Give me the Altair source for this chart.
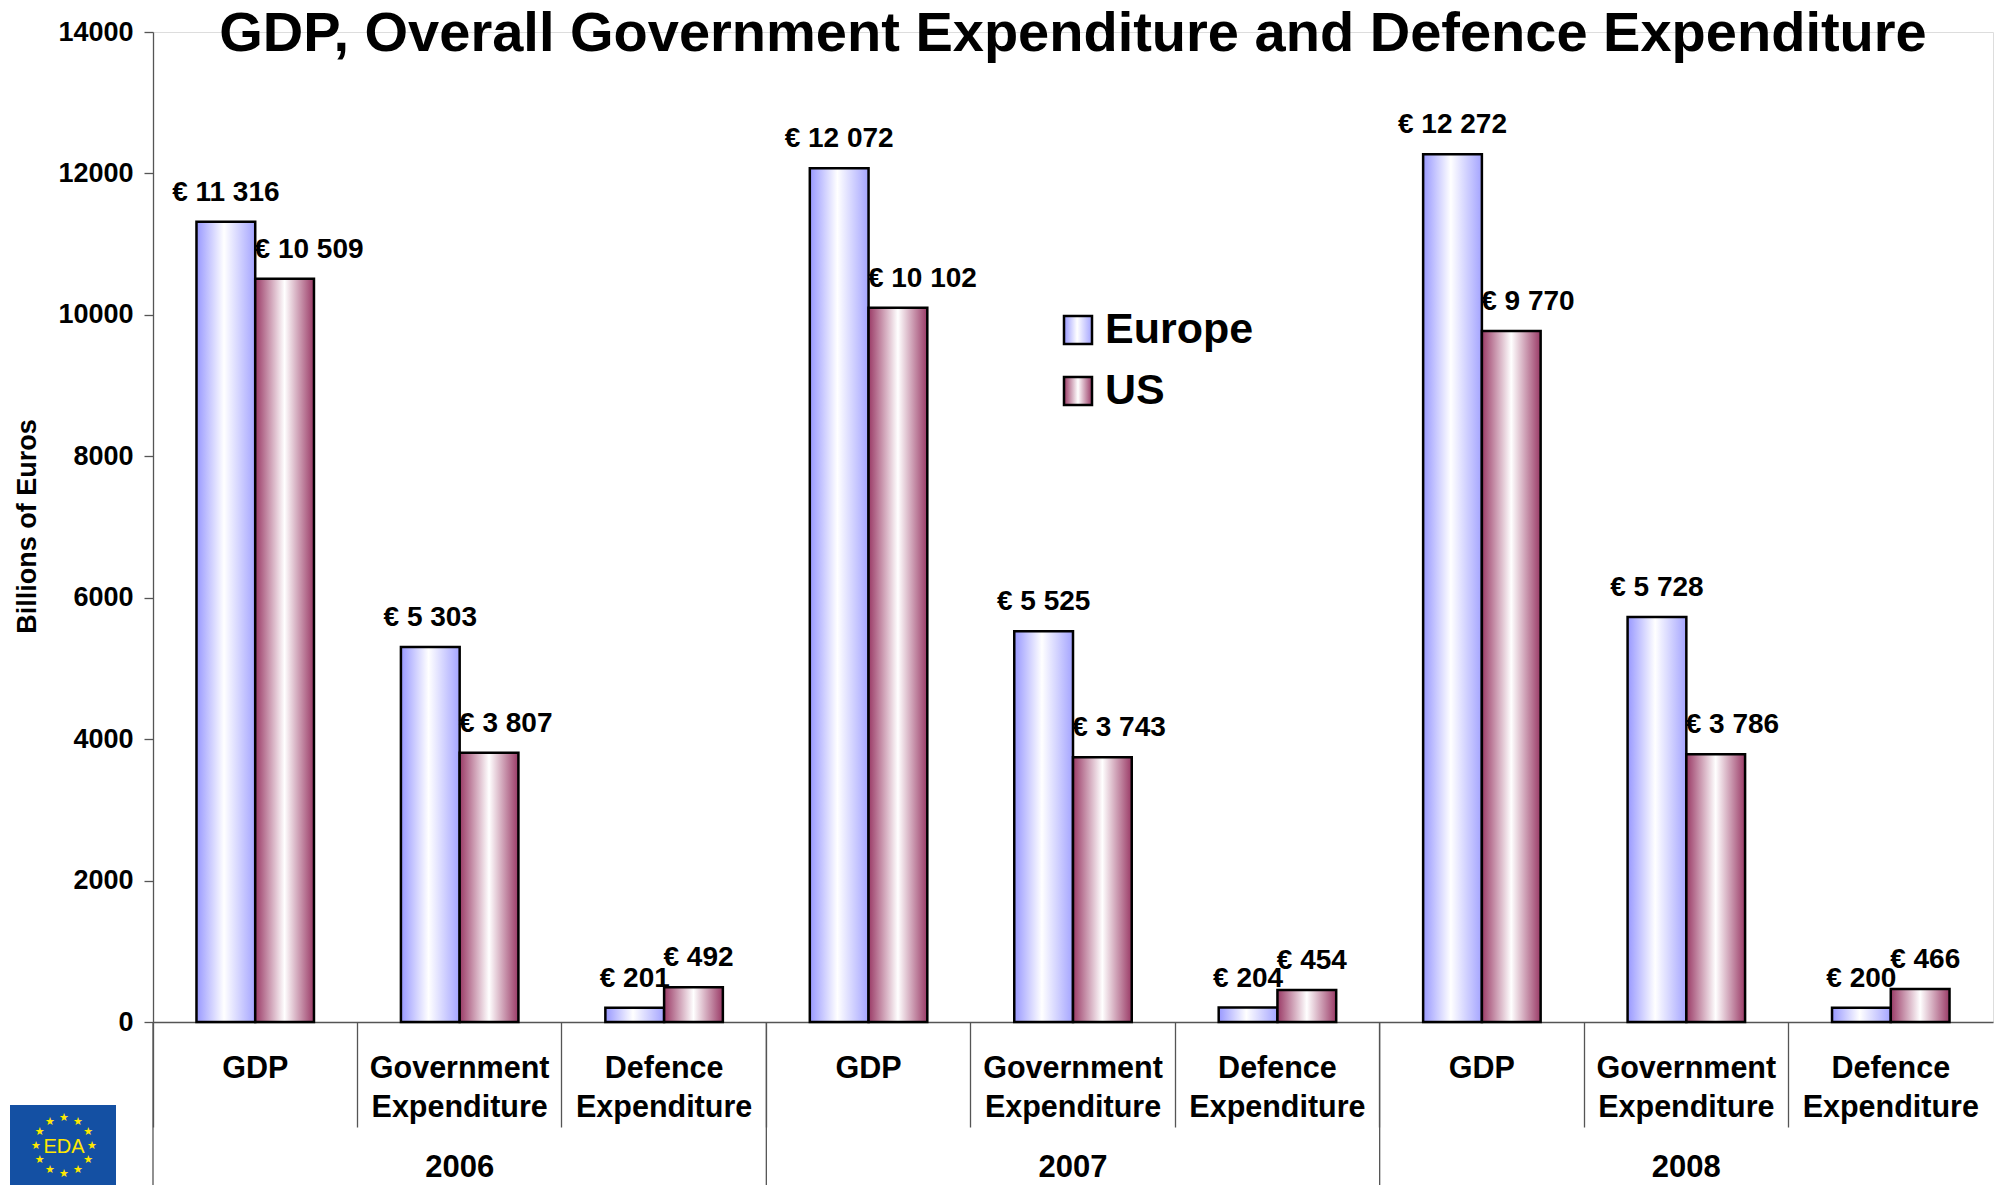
import math
import altair as alt
import pandas as pd

# ---------------- data ----------------
years = ["2006", "2007", "2008"]
categories = ["GDP", "Government\nExpenditure", "Defence\nExpenditure"]
series = ["Europe", "US"]
europe = [11316, 5303, 201, 12072, 5525, 204, 12272, 5728, 200]
us = [10509, 3807, 492, 10102, 3743, 454, 9770, 3786, 466]
y_ticks = [0, 2000, 4000, 6000, 8000, 10000, 12000, 14000]
chart_title = "GDP, Overall Government Expenditure and Defence Expenditure"
y_title = "Billions of Euros"


def euro(v):
    return "€ " + f"{v:,}".replace(",", " ")


keys = [f"{y}-{j}" for y in years for j in range(len(categories))]
rows = []
for i, k in enumerate(keys):
    yr, j = k.split("-")
    for s, vals in (("Europe", europe), ("US", us)):
        rows.append(dict(key=k, year=yr, cat=categories[int(j)], series=s,
                         value=vals[i], label=euro(vals[i])))
df = pd.DataFrame(rows)
df_cat = pd.DataFrame({"key": keys, "cat": [categories[int(k.split("-")[1])] for k in keys]})
df_year = pd.DataFrame({"key": [f"{y}-1" for y in years], "year": years})
df_group = pd.DataFrame({"key": [f"{y}-0" for y in years]})

# ---------------- style ----------------
W, H = 1840, 990
AX = "#555555"
FONT = "Liberation Sans"

grad_eu = alt.Gradient(gradient="linear", x1=0, x2=1, y1=0, y2=0, stops=[
    alt.GradientStop(color="#9898FF", offset=0),
    alt.GradientStop(color="#FFFFFF", offset=0.47),
    alt.GradientStop(color="#A4A4FF", offset=1)])
grad_us = alt.Gradient(gradient="linear", x1=0, x2=1, y1=0, y2=0, stops=[
    alt.GradientStop(color="#9A3A66", offset=0),
    alt.GradientStop(color="#FFFFFF", offset=0.5),
    alt.GradientStop(color="#9A3A66", offset=1)])


def xenc(**kw):
    return alt.X("key:N",
                 scale=alt.Scale(domain=keys, paddingInner=0, paddingOuter=0),
                 axis=alt.Axis(labels=False, title=None, tickSize=105, bandPosition=0,
                               domainColor=AX, tickColor=AX, domainWidth=1.3, tickWidth=1.3),
                 **kw)


xoff = alt.XOffset("series:N", scale=alt.Scale(domain=series, paddingOuter=0.74, paddingInner=0))
yenc = alt.Y("value:Q",
             scale=alt.Scale(domain=[0, 14000], nice=False),
             axis=alt.Axis(values=y_ticks, format="d", grid=False,
                           labelFontSize=27, labelFontWeight="bold", labelColor="black",
                           tickSize=9, labelPadding=11, domainColor=AX, tickColor=AX,
                           domainWidth=1.3, tickWidth=1.3,
                           title=y_title, titleFontSize=27, titleFontWeight="bold",
                           titleColor="black", titleX=-118, titleY=494, titleAngle=-90,
                           titleAlign="center", titleBaseline="alphabetic"))

base = alt.Chart(df)

bars_eu = base.transform_filter(alt.datum.series == "Europe").mark_bar(
    fill=grad_eu, stroke="black", strokeWidth=2.5).encode(x=xenc(), xOffset=xoff, y=yenc)
bars_us = base.transform_filter(alt.datum.series == "US").mark_bar(
    fill=grad_us, stroke="black", strokeWidth=2.5).encode(x=xenc(), xOffset=xoff, y=yenc)

lbl_eu = base.transform_filter(alt.datum.series == "Europe").mark_text(
    align="center", baseline="alphabetic", dy=-21, fontSize=28, fontWeight="bold",
    color="black").encode(x=xenc(), xOffset=xoff, y=yenc, text="label:N")
lbl_us = base.transform_filter(alt.datum.series == "US").mark_text(
    align="left", baseline="alphabetic", dx=-30, dy=-21, fontSize=28, fontWeight="bold",
    color="black").encode(x=xenc(), xOffset=xoff, y=yenc, text="label:N")

group_rules = alt.Chart(df_group).mark_rule(color=AX, strokeWidth=1.3).encode(
    x=xenc(bandPosition=0), y=alt.value(H), y2=alt.value(H + 240))

cat_text = alt.Chart(df_cat).mark_text(
    lineBreak="\n", lineHeight=39, fontSize=30.5, fontWeight="bold", baseline="alphabetic",
    color="black").encode(x=xenc(), y=alt.value(1046), text="cat:N")

year_text = alt.Chart(df_year).mark_text(
    fontSize=31, fontWeight="bold", baseline="alphabetic", color="black").encode(
    x=xenc(), y=alt.value(1145), text="year:N")

title_text = alt.Chart(pd.DataFrame({"t": [chart_title]})).mark_text(
    fontSize=56, fontWeight="bold", baseline="alphabetic", color="black").encode(
    x=alt.value(W / 2), y=alt.value(19), text="t:N")

# legend (manual, to carry the gradient swatches)
leg_layers = []
for s, grad, y0 in (("Europe", grad_eu, 284), ("US", grad_us, 345)):
    d = pd.DataFrame({"s": [s]})
    leg_layers.append(alt.Chart(d).mark_rect(fill=grad, stroke="black", strokeWidth=2.5).encode(
        x=alt.value(911), x2=alt.value(939), y=alt.value(y0), y2=alt.value(y0 + 28)))
    leg_layers.append(alt.Chart(d).mark_text(
        fontSize=43, fontWeight="bold", align="left", baseline="alphabetic", color="black").encode(
        x=alt.value(952), y=alt.value(y0 + 27), text="s:N"))

# EDA logo
logo_layers = [alt.Chart(pd.DataFrame({"l": ["EDA"]})).mark_rect(fill="#1450A3").encode(
    x=alt.value(-143), x2=alt.value(-37), y=alt.value(1073), y2=alt.value(1260))]
cx, cy, r = -89, 1114, 28
for k in range(12):
    a = math.radians(30 * k)
    logo_layers.append(alt.Chart(pd.DataFrame({"s": ["★"]})).mark_text(
        fontSize=11, color="#FFE800", font="DejaVu Sans", baseline="middle").encode(
        x=alt.value(cx + r * math.sin(a)), y=alt.value(cy - r * math.cos(a)), text="s:N"))
logo_layers.append(alt.Chart(pd.DataFrame({"l": ["EDA"]})).mark_text(
    fontSize=20, color="#FFE800", baseline="middle").encode(
    x=alt.value(cx), y=alt.value(cy + 1), text="l:N"))

chart = alt.layer(
    bars_eu, bars_us, lbl_eu, lbl_us, group_rules, cat_text, year_text, title_text,
    *leg_layers, *logo_layers
).properties(
    width=W, height=H,
    autosize=alt.AutoSizeParams(type="none"),
    padding={"left": 145, "top": 24, "right": 1, "bottom": 163},
).configure_view(stroke=None).configure(font=FONT)

chart.save("out.html", embed_options={"renderer": "svg", "actions": False})
